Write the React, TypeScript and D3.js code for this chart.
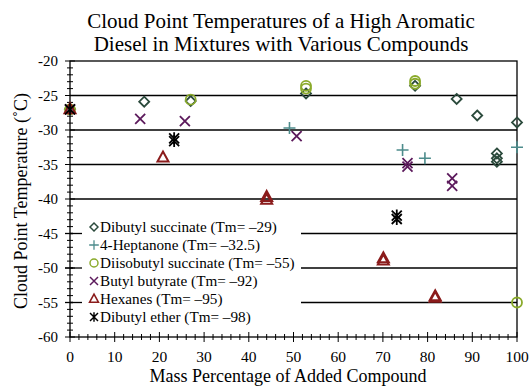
import React, { useEffect, useRef } from 'react'
import * as d3 from 'd3'

const seriesNames = [
  'Dibutyl succinate (Tm= \u201329)',
  '4-Heptanone (Tm= \u201332.5)',
  'Diisobutyl succinate (Tm= \u201355)',
  'Butyl butyrate (Tm= \u201392)',
  'Hexanes (Tm= \u201395)',
  'Dibutyl ether (Tm= \u201398)',
]
const seriesColors = ['#2b4a3c', '#4d8c8c', '#8aaa2a', '#5c1a5c', '#8b1c1c', '#000000']
const seriesShapes = ['diamond', 'plus', 'circle', 'cross', 'triangle', 'asterisk']

const dibutylSuccinate = [
  [0, -27], [16.6, -25.9], [27, -25.8], [52.8, -24.7], [77.2, -23.6], [86.5, -25.5],
  [91.1, -27.9], [100, -28.9], [95.5, -33.4], [95.5, -34.1], [95.5, -34.6],
]
const heptanone = [[0, -27], [49.1, -29.7], [74.4, -32.9], [79.4, -34.1], [100, -32.5]]
const diisobutylSuccinate = [
  [0, -27], [27, -25.6], [52.8, -23.6], [52.8, -24.0], [77.2, -22.9], [77.2, -23.3], [100, -55],
]
const butylButyrate = [
  [0, -27], [15.7, -28.4], [25.7, -28.7], [50.7, -30.9], [75.5, -34.8], [75.5, -35.3],
  [85.5, -37.0], [85.5, -38.1],
]
const hexanes = [
  [0, -27], [20.8, -34.0], [44, -39.7], [44, -40.1], [70.1, -48.6], [70.1, -48.9],
  [81.7, -54.1], [81.7, -54.3],
]
const dibutylEther = [[0, -27], [23.3, -31.2], [23.3, -31.6], [73.1, -42.4], [73.1, -42.9]]

const allSeries = [dibutylSuccinate, heptanone, diisobutylSuccinate, butylButyrate, hexanes, dibutylEther]

const xTicks = [0, 10, 20, 30, 40, 50, 60, 70, 80, 90, 100]
const yTicks = [-20, -25, -30, -35, -40, -45, -50, -55, -60]

const drawMarker = (g, shape, color) => {
  if (shape === 'diamond') {
    g.append('path').attr('d', 'M0,-5L5,0L0,5L-5,0Z')
      .attr('fill', 'none').attr('stroke', color).attr('stroke-width', 1.8)
  } else if (shape === 'plus') {
    g.append('path').attr('d', 'M-6,0H6M0,-6V6')
      .attr('stroke', color).attr('stroke-width', 1.6)
  } else if (shape === 'circle') {
    g.append('circle').attr('r', 5)
      .attr('fill', 'none').attr('stroke', color).attr('stroke-width', 1.8)
  } else if (shape === 'cross') {
    g.append('path').attr('d', 'M-5,-5L5,5M5,-5L-5,5')
      .attr('stroke', color).attr('stroke-width', 1.8)
  } else if (shape === 'triangle') {
    g.append('path').attr('d', 'M0,-6L5.5,4L-5.5,4Z')
      .attr('fill', 'none').attr('stroke', color).attr('stroke-width', 2)
  } else {
    g.append('path').attr('d', 'M-5,-5L5,5M5,-5L-5,5M0,-6V6')
      .attr('stroke', color).attr('stroke-width', 1.8)
  }
}

const App = () => {
  const ref = useRef(null)
  const width = 529
  const height = 386

  useEffect(() => {
    const svg = d3.select(ref.current)
    svg.selectAll('*').remove()
    const font = "'Liberation Serif', 'Times New Roman', serif"

    const x = d3.scaleLinear().domain([0, 100]).range([70, 517])
    const y = d3.scaleLinear().domain([-60, -20]).range([337, 61])

    // gridlines
    svg.append('g').selectAll('line')
      .data(yTicks.filter(d => d > -60 && d < -20))
      .join('line')
      .attr('x1', x(0)).attr('x2', x(100))
      .attr('y1', d => y(d)).attr('y2', d => y(d))
      .attr('stroke', '#000').attr('stroke-width', 1.3)

    // frame
    svg.append('rect')
      .attr('x', x(0)).attr('y', y(-20))
      .attr('width', x(100) - x(0)).attr('height', y(-60) - y(-20))
      .attr('fill', 'none').attr('stroke', '#000').attr('stroke-width', 1.3)

    // legend box covers gridlines
    svg.append('rect')
      .attr('x', 73).attr('y', 218).attr('width', 228).attr('height', 110)
      .attr('fill', '#fff')
    svg.append('g').selectAll('line')
      .data([-45, -50, -55])
      .join('line')
      .attr('x1', x(0) - 5).attr('x2', x(0) + 12)
      .attr('y1', d => y(d)).attr('y2', d => y(d))
      .attr('stroke', '#000').attr('stroke-width', 1.3)

    // y axis ticks
    const yMinor = d3.range(-60, -19, 1)
    svg.append('g').selectAll('line')
      .data(yMinor)
      .join('line')
      .attr('x1', d => x(0) - (d % 5 === 0 ? 5 : 3)).attr('x2', d => x(0) + (d % 5 === 0 ? 5 : 3))
      .attr('y1', d => y(d)).attr('y2', d => y(d))
      .attr('stroke', '#000').attr('stroke-width', 1)
    svg.append('g').selectAll('text')
      .data(yTicks)
      .join('text')
      .attr('x', x(0) - 12).attr('y', d => y(d) + 5)
      .attr('text-anchor', 'end')
      .style('font-family', font).style('font-size', '15px')
      .text(d => d)

    // x axis ticks
    const xMinor = d3.range(0, 101, 2)
    svg.append('g').selectAll('line')
      .data(xMinor)
      .join('line')
      .attr('x1', d => x(d)).attr('x2', d => x(d))
      .attr('y1', d => y(-60) - (d % 10 === 0 ? 5 : 3)).attr('y2', d => y(-60) + (d % 10 === 0 ? 5 : 3))
      .attr('stroke', '#000').attr('stroke-width', 1)
    svg.append('g').selectAll('text')
      .data(xTicks)
      .join('text')
      .attr('x', d => x(d)).attr('y', y(-60) + 24.5)
      .attr('text-anchor', 'middle')
      .style('font-family', font).style('font-size', '15.5px')
      .text(d => d)

    // points
    allSeries.forEach((pts, i) => {
      pts.forEach(p => {
        const g = svg.append('g').attr('transform', `translate(${x(p[0])},${y(p[1])})`)
        drawMarker(g, seriesShapes[i], seriesColors[i])
      })
    })

    // legend
    seriesNames.forEach((name, i) => {
      const ly = 227 + i * 18
      const g = svg.append('g').attr('transform', `translate(94,${ly})`)
      const inner = g.append('g').attr('transform', 'scale(0.8)')
      drawMarker(inner, seriesShapes[i], seriesColors[i])
      svg.append('text')
        .attr('x', 100).attr('y', ly + 5)
        .style('font-family', font).style('font-size', '15.2px')
        .text(name)
    })

    // titles
    svg.append('text')
      .attr('x', 281).attr('y', 28)
      .attr('text-anchor', 'middle')
      .style('font-family', font).style('font-size', '21px')
      .text('Cloud Point Temperatures of a High Aromatic')
    svg.append('text')
      .attr('x', 281).attr('y', 51)
      .attr('text-anchor', 'middle')
      .style('font-family', font).style('font-size', '21px')
      .text('Diesel in Mixtures with Various Compounds')
    svg.append('text')
      .attr('x', 288).attr('y', 382)
      .attr('text-anchor', 'middle')
      .style('font-family', font).style('font-size', '18px')
      .text('Mass Percentage of Added Compound')
    svg.append('text')
      .attr('transform', 'translate(27,201) rotate(-90)')
      .attr('text-anchor', 'middle')
      .style('font-family', font).style('font-size', '18px')
      .text('Cloud Point Temperature (\u02daC)')
  })

  return (
    <div style={{ position: 'absolute', left: 0, top: 0 }}>
      <svg ref={ref} width={width} height={height} style={{ display: 'block', background: '#fff' }}></svg>
    </div>
  )
}

export default App
